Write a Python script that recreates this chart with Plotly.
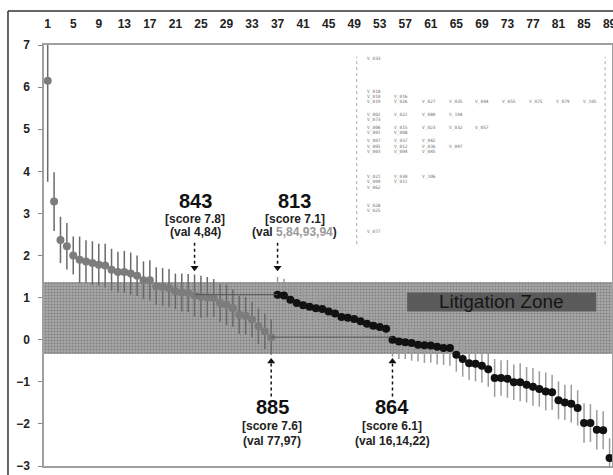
import plotly.graph_objects as go

# ---------------- data ----------------
values = [6.15, 3.28, 2.37, 2.22, 2.00, 1.90, 1.86, 1.82, 1.78, 1.76,
          1.66, 1.61, 1.61, 1.57, 1.52, 1.41, 1.41, 1.27, 1.25, 1.23,
          1.15, 1.12, 1.11, 1.05, 1.02, 1.01, 0.99, 0.87, 0.83, 0.75,
          0.59, 0.57, 0.48, 0.32, 0.20, 0.06,
          1.07, 1.05, 0.95, 0.87, 0.82, 0.78, 0.75, 0.73, 0.67, 0.62,
          0.54, 0.52, 0.49, 0.44, 0.38, 0.33, 0.30, 0.26, 0.00, -0.04,
          -0.06, -0.08, -0.12, -0.13, -0.14, -0.17, -0.20, -0.20, -0.36, -0.46,
          -0.56, -0.57, -0.62, -0.70, -0.91, -0.91, -0.93, -1.01, -1.01, -1.07,
          -1.12, -1.17, -1.23, -1.25, -1.44, -1.49, -1.52, -1.62, -1.98, -1.98,
          -2.14, -2.15, -2.81]
errors = [2.40, 0.70, 0.55, 0.55, 0.45, 0.55, 0.50, 0.52, 0.50, 0.52,
          0.50, 0.48, 0.50, 0.50, 0.48, 0.45, 0.48, 0.45, 0.45, 0.45,
          0.42, 0.45, 0.45, 0.50, 0.50, 0.48, 0.45, 0.45, 0.48, 0.45,
          0.45, 0.45, 0.42, 0.42, 0.42, 0.42,
          0.42, 0.40, 0.42, 0.45, 0.40, 0.42, 0.40, 0.42, 0.45, 0.40,
          0.42, 0.40, 0.42, 0.40, 0.42, 0.40, 0.42, 0.40, 0.40, 0.42,
          0.40, 0.42, 0.40, 0.42, 0.40, 0.42, 0.40, 0.42, 0.40, 0.42,
          0.40, 0.42, 0.40, 0.42, 0.45, 0.42, 0.45, 0.42, 0.45, 0.42,
          0.45, 0.42, 0.45, 0.42, 0.45, 0.42, 0.45, 0.42, 0.47, 0.45,
          0.47, 0.45, 0.47]
n_gray = 36
indices = list(range(1, len(values) + 1))
x_tick_labels = [str(v) for v in range(1, 90, 4)]
y_ticks = list(range(-3, 8))

zone_low, zone_high = -0.33, 1.38
zone_label = "Litigation Zone"

callout_ids = ["843", "813", "885", "864"]
callout_index = [24, 37, 36, 55]
callout_score = ["7.8", "7.1", "7.6", "6.1"]
callout_val = ["4,84", "5,84,93,94", "77,97", "16,14,22"]
callout_side = ["top", "top", "bottom", "bottom"]

# pairs of equivalent points joined by a thin line (from index, to index, level taken from)
pair_lines = [(24, 37, 37), (36, 55, 36)]

var_rows = [
    ["V_033"],
    ["V_018"],
    ["V_010", "V_016"],
    ["V_019", "V_026", "V_027", "V_035", "V_044", "V_055", "V_075", "V_079", "V_105"],
    ["V_002", "V_022", "V_080", "V_104"],
    ["V_073"],
    ["V_006", "V_015", "V_023", "V_032", "V_057"],
    ["V_001", "V_008"],
    ["V_007", "V_037", "V_042"],
    ["V_005", "V_012", "V_036", "V_097"],
    ["V_003", "V_004", "V_045"],
    ["V_021", "V_030", "V_106"],
    ["V_009", "V_011"],
    ["V_062"],
    ["V_028"],
    ["V_025"],
    ["V_077"],
]
var_row_y = [6.67, 5.88, 5.77, 5.64, 5.34, 5.23, 5.03, 4.91, 4.73, 4.58,
             4.45, 3.86, 3.74, 3.60, 3.18, 3.05, 2.55]

# ---------------- layout constants ----------------
X_MIN, X_MAX = 0.42, 89.38
FONT = "Liberation Sans, Arial, sans-serif"
col_x = [50.7, 54.9, 59.3, 63.5, 67.6, 71.8, 76.0, 80.3, 84.5]

fig = go.Figure()

# litigation zone band (dotted texture)
fig.add_trace(go.Bar(
    x=[(X_MIN + X_MAX) / 2], y=[zone_high - zone_low], base=[zone_low],
    width=[X_MAX - X_MIN],
    marker=dict(color="#a9a9a9", line=dict(width=0),
                pattern=dict(shape=".", fgcolor="#585858", size=3, solidity=0.4)),
    hoverinfo="skip", showlegend=False))

# gray points
fig.add_trace(go.Scatter(
    x=indices[:n_gray], y=values[:n_gray], mode="markers",
    error_y=dict(type="data", array=errors[:n_gray], color="#6a6a6a", thickness=1.5, width=0),
    marker=dict(color="#7c7c7c", size=8), showlegend=False))

# black points
fig.add_trace(go.Scatter(
    x=indices[n_gray:], y=values[n_gray:], mode="markers",
    error_y=dict(type="data", array=errors[n_gray:], color="#9c9c9c", thickness=1.5, width=0),
    marker=dict(color="#111111", size=8), showlegend=False))

shapes = []
annotations = []

# pair lines
for a, b, lev in pair_lines:
    yv = values[lev - 1]
    shapes.append(dict(type="line", xref="x", yref="y", x0=a, x1=b, y0=yv, y1=yv,
                       line=dict(color="#555555", width=1)))

# callouts
top_arrow = (2.30, 1.71)
bot_arrow = (-1.35, -0.52)
top_text_y = [3.30, 2.87, 2.57]
bot_text_y = [-1.60, -2.05, -2.40]
text_dx = {"843": 0.1, "813": 2.7, "885": 0.2, "864": 0.0}
head_x, head_y, head_sym = [], [], []
for cid, idx, sc, vv, side in zip(callout_ids, callout_index, callout_score, callout_val, callout_side):
    tail, head = top_arrow if side == "top" else bot_arrow
    shapes.append(dict(type="line", xref="x", yref="y", x0=idx, x1=idx, y0=tail, y1=head,
                       line=dict(color="#111111", width=1.5, dash="dot")))
    head_x.append(idx)
    head_y.append(head)
    head_sym.append("triangle-down" if side == "top" else "triangle-up")
    ty = top_text_y if side == "top" else bot_text_y
    tx = idx + text_dx[cid]
    annotations.append(dict(x=tx, y=ty[0], xref="x", yref="y", text="<b>%s</b>" % cid,
                            showarrow=False, font=dict(family=FONT, size=20, color="#111111")))
    annotations.append(dict(x=tx, y=ty[1], xref="x", yref="y", text="<b>[score %s]</b>" % sc,
                            showarrow=False, font=dict(family=FONT, size=12, color="#222222")))
    if cid == "813":
        vtxt = "<b>(val <span style='color:#9a9a9a'>%s</span>)</b>" % vv
    else:
        vtxt = "<b>(val %s)</b>" % vv
    annotations.append(dict(x=tx, y=ty[2], xref="x", yref="y", text=vtxt,
                            showarrow=False, font=dict(family=FONT, size=12, color="#222222")))

fig.add_trace(go.Scatter(x=head_x, y=head_y, mode="markers",
                         marker=dict(symbol=head_sym, size=7, color="#111111"),
                         hoverinfo="skip", showlegend=False))

# litigation zone label box
shapes.append(dict(type="rect", xref="x", yref="y", x0=57.3, x1=86.9, y0=0.67, y1=1.12,
                   fillcolor="#5a5a5a", line=dict(width=0)))
annotations.append(dict(x=72.0, y=0.90, xref="x", yref="y", text=zone_label, showarrow=False,
                        font=dict(family=FONT, size=19, color="#161616")))

# variable list block
for row, ry in zip(var_rows, var_row_y):
    for j, lab in enumerate(row):
        annotations.append(dict(x=col_x[j], y=ry, xref="x", yref="y", text=lab, xanchor="left",
                                showarrow=False,
                                font=dict(family="DejaVu Sans Mono, monospace", size=4.5, color="#6f6f6f")))
for bx in (49.4, 88.3):
    shapes.append(dict(type="line", xref="x", yref="y", x0=bx, x1=bx, y0=2.27, y1=6.72,
                       line=dict(color="#aaaaaa", width=1, dash="dot")))

# outer frame
shapes.append(dict(type="line", xref="paper", yref="paper", x0=-0.0634, x1=-0.0634, y0=-0.05, y1=1.0808,
                   line=dict(color="#333333", width=1.5)))
shapes.append(dict(type="line", xref="paper", yref="paper", x0=-0.0634, x1=1.01, y0=1.0808, y1=1.0808,
                   line=dict(color="#333333", width=1.5)))

fig.update_layout(
    width=613, height=475,
    margin=dict(l=44, r=1, t=45, b=9, autoexpand=False),
    paper_bgcolor="white", plot_bgcolor="white",
    shapes=shapes, annotations=annotations,
    showlegend=False, bargap=0,
    xaxis=dict(range=[X_MIN, X_MAX], side="top", tickmode="array",
               tickvals=list(range(1, 90, 4)), ticktext=x_tick_labels,
               showgrid=False, zeroline=False, showline=True, mirror=True,
               linecolor="#a0a0a0", linewidth=1.5, ticks="",
               ticklabelstandoff=10, ticklabeloverflow="allow", automargin=False,
               tickfont=dict(family=FONT, size=12, color="#222222", weight="bold")),
    yaxis=dict(range=[-3, 7], tickmode="array", tickvals=y_ticks,
               showgrid=False, zeroline=False, showline=True, mirror=True,
               linecolor="#a0a0a0", linewidth=1.5, ticks="outside", ticklen=4,
               tickcolor="#888888", ticklabelstandoff=6, automargin=False,
               tickfont=dict(family=FONT, size=12, color="#222222", weight="bold")),
)

fig.write_html("out.html")
